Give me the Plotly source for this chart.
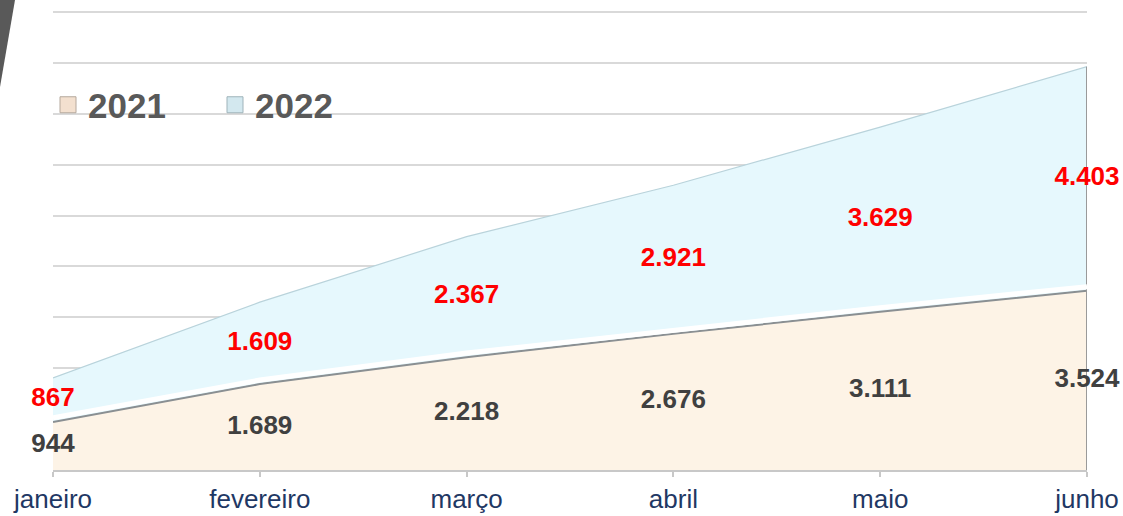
import plotly.graph_objects as go

months = ["janeiro", "fevereiro", "março", "abril", "maio", "junho"]
v2021 = [944, 1689, 2218, 2676, 3111, 3524]
v2022 = [867, 1609, 2367, 2921, 3629, 4403]
series_names = ["2021", "2022"]

FONT = "Liberation Sans, Arial, sans-serif"
BEIGE = "#fdf3e6"
BLUE = "#e6f8fd"

def fmt(v):
    return f"{v:,}".replace(",", ".")

cum = [a + b for a, b in zip(v2021, v2022)]
mid2021 = [a / 2 for a in v2021]
mid2022 = [a + b / 2 for a, b in zip(v2021, v2022)]

fig = go.Figure()

# stacked areas
fig.add_trace(go.Scatter(x=months, y=v2021, mode="lines", fill="tozeroy",
                         fillcolor=BEIGE, line=dict(width=0, color=BEIGE),
                         showlegend=False, hoverinfo="skip"))
fig.add_trace(go.Scatter(x=months, y=cum, mode="lines", fill="tonexty",
                         fillcolor=BLUE, line=dict(width=1.2, color="#b9d3db"),
                         showlegend=False, hoverinfo="skip"))
# bevel edges
fig.add_trace(go.Scatter(x=months, y=v2021, mode="lines",
                         line=dict(width=2, color="#8a8f92"),
                         showlegend=False, hoverinfo="skip"))
fig.add_trace(go.Scatter(x=months, y=v2021, mode="lines", yaxis="y2",
                         line=dict(width=5, color="#ffffff"),
                         showlegend=False, hoverinfo="skip"))
fig.add_trace(go.Scatter(x=[months[-1], months[-1]], y=[0, cum[-1]], mode="lines",
                         line=dict(width=2, color="#9a9a9a"),
                         showlegend=False, hoverinfo="skip"))

# value labels
fig.add_trace(go.Scatter(x=months, y=mid2021, mode="text", text=[fmt(v) for v in v2021],
                         textfont=dict(family=FONT, size=26, color="#404040", weight="bold"),
                         cliponaxis=False, showlegend=False, hoverinfo="skip"))
fig.add_trace(go.Scatter(x=months, y=mid2022, mode="text", text=[fmt(v) for v in v2022],
                         textfont=dict(family=FONT, size=26, color="#ff0000", weight="bold"),
                         cliponaxis=False, showlegend=False, hoverinfo="skip"))

# legend entries
fig.add_trace(go.Scatter(x=[None], y=[None], mode="markers", name=series_names[0],
                         marker=dict(symbol="square", size=18, color="#f3e0cf",
                                     line=dict(width=1, color="#b5a89c"))))
fig.add_trace(go.Scatter(x=[None], y=[None], mode="markers", name=series_names[1],
                         marker=dict(symbol="square", size=18, color="#d3e8ef",
                                     line=dict(width=1, color="#9fb3ba"))))

L, T, W, H = 53, 9, 1034, 461

def px(p):
    return (p - L) / W

def py(q):
    return (T + H - q) / H

fig.update_layout(
    width=1123, height=516,
    margin=dict(l=L, r=1123 - L - W, t=T, b=516 - T - H, autoexpand=False),
    paper_bgcolor="white", plot_bgcolor="white",
    font=dict(family=FONT),
    showlegend=True,
    legend=dict(orientation="h", x=px(48), y=py(105), xanchor="left", yanchor="middle",
                traceorder="normal",
                font=dict(family=FONT, size=35, color="#595959", weight="bold"),
                bgcolor="rgba(0,0,0,0)", entrywidth=122, entrywidthmode="pixels",
                itemclick=False),
    xaxis=dict(type="category", range=[0, 5], showgrid=False, showline=True,
               automargin=False,
               linecolor="#c8c8c8", linewidth=2, ticks="outside", ticklen=5,
               tickcolor="#c8c8c8", tickwidth=2,
               tickfont=dict(family=FONT, size=26, color="#1f3864")),
    yaxis=dict(range=[0, 9060], dtick=1000, showgrid=True, gridcolor="#d9d9d9",
               automargin=False,
               gridwidth=2, showticklabels=False, zeroline=False, showline=False),
    yaxis2=dict(range=[-80, 8980], overlaying="y", visible=False),
    shapes=[dict(type="path", xref="paper", yref="paper",
                 path=f"M {px(0)} {py(0)} L {px(15)} {py(0)} L {px(0)} {py(87)} Z",
                 fillcolor="#595959", line=dict(width=0), layer="above")],
)

fig.write_html("out.html", config={"displayModeBar": False},
               post_script="document.body.style.margin='0';")
